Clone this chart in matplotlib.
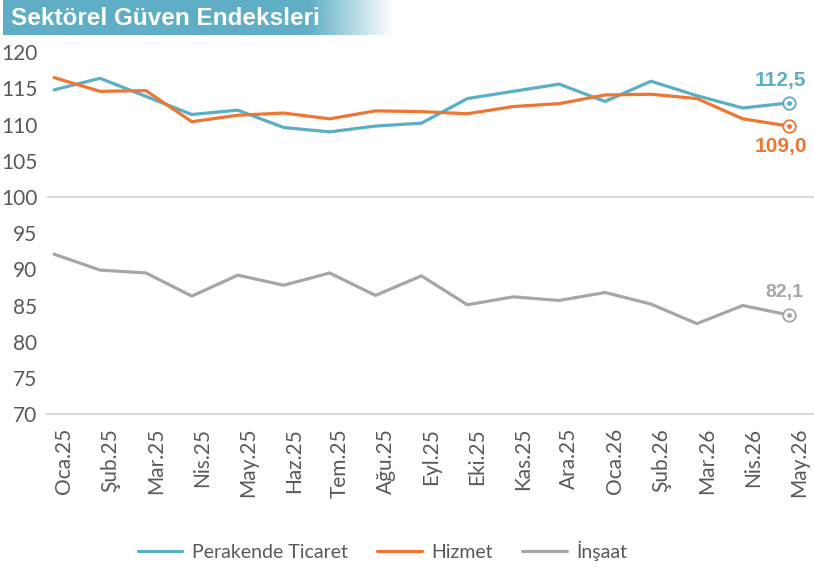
import matplotlib.pyplot as plt
import numpy as np

plt.rcParams['font.family'] = ['Lato', 'Liberation Sans', 'DejaVu Sans']

months = ['Oca.25', 'Şub.25', 'Mar.25', 'Nis.25', 'May.25', 'Haz.25', 'Tem.25', 'Ağu.25',
          'Eyl.25', 'Eki.25', 'Kas.25', 'Ara.25', 'Oca.26', 'Şub.26', 'Mar.26', 'Nis.26', 'May.26']
perakende = [114.8, 116.4, 113.9, 111.4, 112.0, 109.6, 109.0, 109.8, 110.2,
             113.6, 114.6, 115.6, 113.2, 116.0, 114.0, 112.3, 113.0]
hizmet = [116.5, 114.6, 114.7, 110.4, 111.3, 111.6, 110.8, 111.9, 111.8,
          111.5, 112.5, 112.9, 114.1, 114.2, 113.6, 110.8, 109.8]
insaat = [92.1, 89.9, 89.5, 86.3, 89.2, 87.8, 89.5, 86.4, 89.1,
          85.1, 86.2, 85.7, 86.8, 85.2, 82.5, 85.0, 83.7]
son_etiket = ['112,5', '109,0', '82,1']

c_per = '#5aafc7'
c_hiz = '#ee7633'
c_ins = '#a6a6a6'
bold_font = ['Liberation Sans', 'DejaVu Sans']

fig = plt.figure(figsize=(8.14, 5.68), dpi=100)
ax = fig.add_axes([0.058, 0.271, 0.942, 0.637])
x = np.arange(len(months))

ax.plot(x, perakende, color=c_per, lw=2.3, label='Perakende Ticaret', solid_capstyle='round')
ax.plot(x, hizmet, color=c_hiz, lw=2.3, label='Hizmet', solid_capstyle='round')
ax.plot(x, insaat, color=c_ins, lw=2.3, label='İnşaat', solid_capstyle='round')

# son nokta isaretleri
for seri, c in [(perakende, c_per), (hizmet, c_hiz), (insaat, c_ins)]:
    ax.plot(x[-1], seri[-1], 'o', ms=9, mfc='white', mec=c, mew=1.3, zorder=5)
    ax.plot(x[-1], seri[-1], 'o', ms=2.5, color=c, zorder=6)

ax.annotate(son_etiket[0], (x[-1], perakende[-1]), xytext=(-6, 9), textcoords='offset points',
            ha='center', va='bottom', color=c_per, fontsize=15, fontweight='bold', family=bold_font)
ax.annotate(son_etiket[1], (x[-1], hizmet[-1]), xytext=(-6, -8), textcoords='offset points',
            ha='center', va='top', color=c_hiz, fontsize=15, fontweight='bold', family=bold_font)
ax.annotate(son_etiket[2], (x[-1], insaat[-1]), xytext=(-3, 10), textcoords='offset points',
            ha='center', va='bottom', color=c_ins, fontsize=14, fontweight='bold', family=bold_font)

ax.axhline(100, color='#d9d9d9', lw=1.5, zorder=0)
ax.set_ylim(70, 120)
ax.set_xlim(-0.15, 16.55)
ax.set_yticks(range(70, 121, 5))
ax.set_xticks(x)
ax.set_xticklabels(months, rotation=90, ha='left', va='top')
for s in ['top', 'right', 'left']:
    ax.spines[s].set_visible(False)
ax.spines['bottom'].set_color('#d9d9d9')
ax.spines['bottom'].set_linewidth(1.5)
ax.tick_params(axis='both', length=0, colors='#595959', labelsize=15)
ax.tick_params(axis='x', pad=10)
ax.tick_params(axis='y', pad=7)

leg = fig.legend(loc='center', bbox_to_anchor=(0.47, 0.03), ncol=3, frameon=False,
                 fontsize=14, handlelength=2.3, columnspacing=1.5, handletextpad=0.5)
for t in leg.get_texts():
    t.set_color('#595959')

# baslik seridi
grad = np.ones((1, 256))
grad[0, 200:] = np.linspace(1, 0, 56)
col = np.zeros((1, 256, 4))
col[..., 0] = 0x5f / 255
col[..., 1] = 0xae / 255
col[..., 2] = 0xc6 / 255
col[..., 3] = grad
bax = fig.add_axes([0.004, 0.938, 0.48, 0.062])
bax.imshow(col, aspect='auto', extent=[0, 1, 0, 1])
bax.set_axis_off()
fig.text(0.014, 0.968, 'Sektörel Güven Endeksleri', color='white', fontsize=17.5,
         fontweight='bold', va='center', ha='left', family=bold_font)

fig.savefig('out.png', dpi=100)
